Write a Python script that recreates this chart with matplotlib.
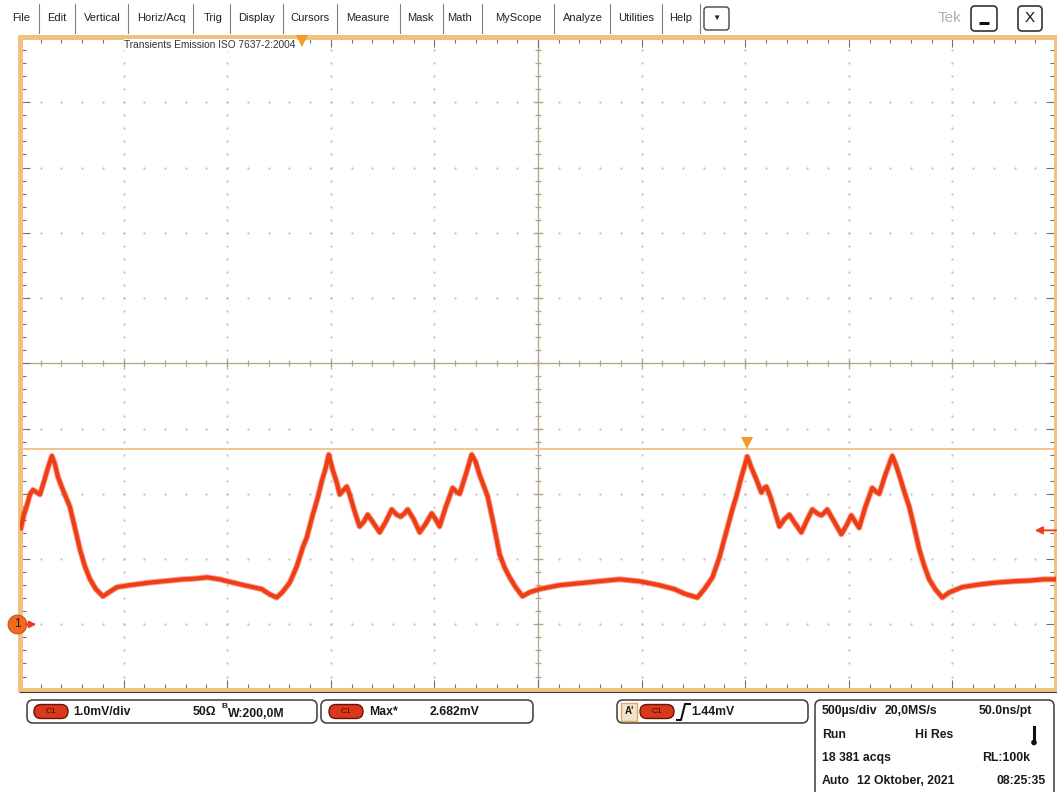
"""Tek scope screen: CH1 transient emission capture (ISO 7637-2)."""

import matplotlib

matplotlib.use("Agg")
import matplotlib.patheffects as pe
import matplotlib.pyplot as plt
import numpy as np
from matplotlib.patches import Circle, FancyBboxPatch, Rectangle

plt.rcParams["font.family"] = ["Liberation Sans", "DejaVu Sans"]

# CH1 trace: time from left graticule edge (ms), level (mV)
time_ms = [
    0.005, 0.019, 0.034, 0.048, 0.063, 0.077, 0.096, 0.116, 0.135, 0.154,
    0.169, 0.183, 0.207, 0.241, 0.265, 0.289, 0.313, 0.338, 0.366, 0.400,
    0.434, 0.468, 0.530, 0.627, 0.723, 0.786, 0.844, 0.902, 0.964, 1.027,
    1.109, 1.167, 1.205, 1.239, 1.268, 1.302, 1.336, 1.365, 1.384, 1.413,
    1.437, 1.456, 1.476, 1.490, 1.509, 1.529, 1.543, 1.562, 1.577, 1.591,
    1.615, 1.639, 1.659, 1.678, 1.702, 1.736, 1.765, 1.794, 1.818, 1.837,
    1.856, 1.871, 1.900, 1.929, 1.958, 1.987, 2.006, 2.025, 2.054, 2.088,
    2.107, 2.122, 2.151, 2.180, 2.199, 2.218, 2.242, 2.257, 2.286, 2.315,
    2.339, 2.363, 2.392, 2.425, 2.459, 2.507, 2.604, 2.700, 2.797, 2.893,
    2.990, 3.086, 3.158, 3.207, 3.269, 3.303, 3.342, 3.375, 3.409, 3.438,
    3.457, 3.481, 3.510, 3.530, 3.554, 3.578, 3.592, 3.602, 3.621, 3.645,
    3.665, 3.689, 3.713, 3.742, 3.771, 3.800, 3.824, 3.848, 3.867, 3.882,
    3.896, 3.930, 3.964, 3.993, 4.012, 4.031, 4.050, 4.079, 4.113, 4.132,
    4.147, 4.176, 4.210, 4.229, 4.253, 4.272, 4.292, 4.316, 4.340, 4.364,
    4.388, 4.417, 4.451, 4.485, 4.547, 4.629, 4.711, 4.798, 4.870, 4.943,
    4.996,
]
ch1_mv = [
    1.48, 1.68, 1.83, 1.99, 2.06, 2.03, 1.99, 2.19, 2.40, 2.58,
    2.45, 2.26, 2.06, 1.80, 1.48, 1.15, 0.89, 0.69, 0.54, 0.43,
    0.50, 0.57, 0.60, 0.64, 0.67, 0.69, 0.70, 0.72, 0.69, 0.64,
    0.58, 0.54, 0.46, 0.41, 0.50, 0.64, 0.89, 1.18, 1.33, 1.68,
    1.94, 2.19, 2.40, 2.60, 2.37, 2.17, 1.99, 2.06, 2.11, 1.99,
    1.73, 1.50, 1.57, 1.68, 1.57, 1.41, 1.57, 1.76, 1.68, 1.65,
    1.70, 1.76, 1.61, 1.41, 1.54, 1.70, 1.61, 1.50, 1.79, 2.09,
    2.03, 2.00, 2.29, 2.60, 2.49, 2.29, 2.09, 1.96, 1.53, 1.07,
    0.87, 0.72, 0.57, 0.43, 0.49, 0.54, 0.60, 0.63, 0.66, 0.69,
    0.66, 0.60, 0.54, 0.47, 0.41, 0.54, 0.72, 1.02, 1.42, 1.76,
    1.96, 2.25, 2.57, 2.40, 2.22, 2.02, 2.09, 2.11, 1.96, 1.71,
    1.50, 1.61, 1.68, 1.54, 1.41, 1.61, 1.76, 1.70, 1.67, 1.71,
    1.76, 1.57, 1.38, 1.54, 1.67, 1.57, 1.48, 1.79, 2.09, 2.03,
    2.00, 2.29, 2.58, 2.43, 2.19, 1.99, 1.80, 1.48, 1.15, 0.90,
    0.69, 0.54, 0.41, 0.49, 0.57, 0.61, 0.64, 0.66, 0.67, 0.69,
    0.69,
]

max_mv = 2.682        # Max* measurement
trig_mv = 1.44        # trigger level
trig_pos_ms = 1.361   # trigger position marker on top edge
max_pos_ms = 3.510    # marker above the peak
gnd_mv = 0.0

menu_items = ["File", "Edit", "Vertical", "Horiz/Acq", "Trig", "Display", "Cursors",
              "Measure", "Mask", "Math", "MyScope", "Analyze", "Utilities", "Help"]

W, H = 1057, 792
TRACE = "#ef3d16"
TAN = "#f1c27d"
ORANGE = "#f39a2c"
CROSS = "#b3a688"
DOT = "#c2c2c2"


def rbox(ax, x, y, w, h, r, fc, ec, lw=1.0, z=2):
    ax.add_patch(FancyBboxPatch((x, y), w, h, boxstyle=f"round,pad=0,rounding_size={r}",
                                fc=fc, ec=ec, lw=lw, zorder=z))


def pill(ax, x, y):
    rbox(ax, x, y, 34, 14, 7, "#d8381c", "#6b1208", lw=1.0, z=3)
    ax.text(x + 17, y + 7.3, "C1", fontsize=6, color="#3d0a04", ha="center", va="center", zorder=4)


def btext(ax, x, y, s, ha="left", size=8.8):
    ax.text(x, y, s, fontsize=size, weight="bold", color="#1a1a1a", ha=ha, va="center", zorder=4)


fig = plt.figure(figsize=(W / 100, H / 100), dpi=100, facecolor="white")

# ---- graticule / waveform ----
ax = fig.add_axes([20 / W, 1 - 689.6 / H, 1036 / W, 652.6 / H])
ax.set_xlim(0, 5)
ax.set_ylim(-1, 9)
ax.set_facecolor("white")

x_major = np.arange(0, 5.001, 0.5)
y_major = np.arange(-1, 9.001, 1.0)
x_minor = np.arange(0, 5.001, 0.1)
y_minor = np.arange(-1, 9.001, 0.2)

for x in x_major[1:-1]:
    if abs(x - 2.5) > 1e-6:
        ax.plot(np.full_like(y_minor, x), y_minor, ls="none", marker="o", ms=1.6, mew=0,
                color=DOT, zorder=1)
for y in y_major[1:-1]:
    if abs(y - 4) > 1e-6:
        ax.plot(x_minor, np.full_like(x_minor, y), ls="none", marker="o", ms=1.6, mew=0,
                color=DOT, zorder=1)

ax.axvline(2.5, color=CROSS, lw=0.9, zorder=1.5)
ax.axhline(4, color=CROSS, lw=0.9, zorder=1.5)
ax.vlines(x_minor, 4 - 0.045, 4 + 0.045, color=CROSS, lw=0.9, zorder=1.5)
ax.vlines(x_major, 4 - 0.08, 4 + 0.08, color=CROSS, lw=0.9, zorder=1.5)
ax.hlines(y_minor, 2.5 - 0.015, 2.5 + 0.015, color=CROSS, lw=0.9, zorder=1.5)
ax.hlines(y_major, 2.5 - 0.026, 2.5 + 0.026, color=CROSS, lw=0.9, zorder=1.5)

ax.set_xticks(x_major)
ax.set_xticks(x_minor, minor=True)
ax.set_yticks(y_major)
ax.set_yticks(y_minor, minor=True)
ax.tick_params(which="both", direction="in", top=True, right=True, labelbottom=False,
               labelleft=False, color="#707070", width=0.8)
ax.tick_params(which="major", length=7)
ax.tick_params(which="minor", length=4)
for s in ax.spines.values():
    s.set_color(TAN)
    s.set_linewidth(3.6)

ax.axhline(max_mv, color="#f3bf85", lw=1.3, zorder=3)
ax.plot(time_ms, ch1_mv, color=TRACE, lw=3.0, solid_joinstyle="round", zorder=4,
        path_effects=[pe.Stroke(linewidth=4.4, foreground=TRACE, alpha=0.45), pe.Normal()])

ax.plot(max_pos_ms, 2.78, marker="v", ms=8, mew=0, color=ORANGE, clip_on=False, zorder=5)
ax.plot(trig_pos_ms, 8.94, marker="v", ms=8, mew=0, color=ORANGE, clip_on=False, zorder=7)
ax.text(trig_pos_ms - 0.03, 8.88, "Transients Emission ISO 7637-2:2004", fontsize=7.3,
        color="#333333", ha="right", va="center", zorder=6,
        bbox=dict(fc="white", ec="none", pad=0.6))

ytr = ax.get_yaxis_transform()
ax.plot(-0.003, gnd_mv, marker="o", ms=13.5, color="#f26b1c", mec="#c9501a", mew=0.8,
        transform=ytr, clip_on=False, zorder=8)
ax.text(-0.003, gnd_mv, "1", fontsize=8.5, color="#1a1a1a", ha="center", va="center",
        transform=ytr, zorder=9)
ax.annotate("", xy=(0.0158, gnd_mv), xytext=(0.0055, gnd_mv), xycoords=ytr,
            arrowprops=dict(arrowstyle="-|>", color="#e8401a", lw=1.4, mutation_scale=10,
                            shrinkA=0, shrinkB=0), annotation_clip=False, zorder=8)
ax.annotate("", xy=(0.9795, trig_mv), xytext=(1.0, trig_mv), xycoords=ytr,
            arrowprops=dict(arrowstyle="-|>", color="#e8401a", lw=1.4, mutation_scale=11,
                            shrinkA=0, shrinkB=0), annotation_clip=False, zorder=8)

# ---- screen chrome in pixel coordinates ----
ui = fig.add_axes([0, 0, 1, 1], zorder=5)
ui.set_xlim(0, W)
ui.set_ylim(H, 0)
ui.axis("off")

menu_x = [21, 57, 102, 161, 213, 256, 310, 368, 420, 460, 518, 583, 636, 681]
sep_x = [39, 75, 128, 193, 230, 283, 337, 400, 443, 482, 554, 610, 662, 700]
for name, x in zip(menu_items, menu_x):
    ui.text(x, 18, name, fontsize=8, color="#222222", ha="center", va="center")
for x in sep_x:
    ui.plot([x, x], [4, 33], color="#808080", lw=0.8)

rbox(ui, 704, 7, 25, 23, 3, "white", "#444444", lw=1.0)
ui.text(716.5, 18.5, "▼", fontsize=6, color="#222222", ha="center", va="center")
ui.text(949, 18, "Tek", fontsize=11, color="#b0b0b0", ha="center", va="center")
rbox(ui, 971, 6, 26, 25, 4, "white", "#333333", lw=1.2)
ui.plot([979, 989], [23, 23], color="#111111", lw=2.2, solid_capstyle="butt")
rbox(ui, 1018, 6, 24, 25, 4, "white", "#333333", lw=1.2)
ui.text(1030, 18.5, "X", fontsize=11, color="#111111", ha="center", va="center")

ui.plot([20, W], [691.5, 691.5], color="#3a3a3a", lw=0.8)

# channel box
rbox(ui, 27, 700, 290, 23, 6, "white", "#3a3a3a", lw=1.1)
pill(ui, 34, 704.5)
btext(ui, 73, 712, "1.0mV/div")
btext(ui, 193, 712, "50Ω")
ui.text(222, 706.5, "B", fontsize=6, weight="bold", color="#1a1a1a", ha="left", va="center")
btext(ui, 228, 714, "W:200,0M")

# measurement box
rbox(ui, 321, 700, 212, 23, 6, "white", "#3a3a3a", lw=1.1)
pill(ui, 329, 704.5)
btext(ui, 369, 712, "Max*")
btext(ui, 430, 712, f"{max_mv:.3f}mV")

# trigger box
rbox(ui, 617, 700, 191, 23, 6, "white", "#3a3a3a", lw=1.1)
ui.add_patch(Rectangle((621, 702.5), 16, 18, fc="#f3e3c8", ec="#e0a860", lw=1.0, zorder=3))
ui.text(629, 711.5, "A'", fontsize=7, weight="bold", color="#1a1a1a", ha="center", va="center",
        zorder=4)
pill(ui, 640, 704.5)
ui.plot([677, 681, 683, 685, 690], [720, 720, 712, 704, 704], color="#111111", lw=1.5,
        zorder=4)
btext(ui, 691, 712, f"{trig_mv:.2f}mV")

# timebase / acquisition box
rbox(ui, 815, 700, 239, 110, 6, "white", "#3a3a3a", lw=1.1)
btext(ui, 822, 711, "500µs/div")
btext(ui, 885, 711, "20,0MS/s")
btext(ui, 1032, 711, "50.0ns/pt", ha="right")
btext(ui, 822, 735, "Run")
btext(ui, 915, 735, "Hi Res")
ui.plot([1034, 1034], [727, 741], color="#111111", lw=2.2, zorder=4)
ui.add_patch(Circle((1034, 742.5), 2.8, fc="#111111", ec="none", zorder=4))
btext(ui, 822, 758, "18 381 acqs")
btext(ui, 1030, 758, "RL:100k", ha="right")
btext(ui, 822, 781, "Auto")
btext(ui, 857, 781, "12 Oktober, 2021")
btext(ui, 1046, 781, "08:25:35", ha="right")

fig.savefig("out.png", dpi=100, facecolor="white")
plt.close(fig)
